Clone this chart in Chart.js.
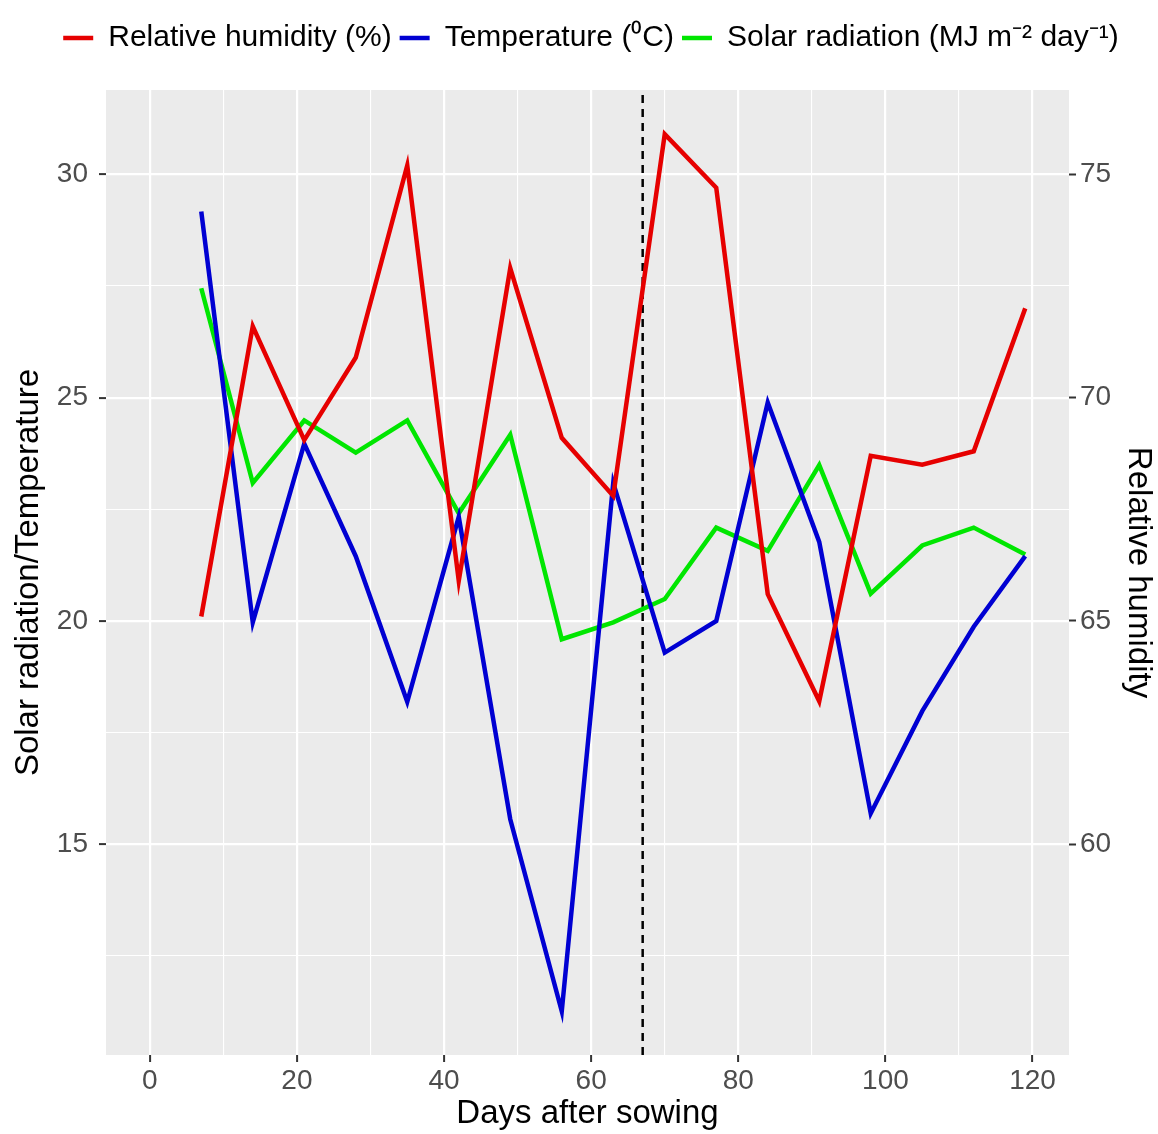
<!DOCTYPE html>
<html>
<head>
<meta charset="utf-8">
<title>Weather during crop growth</title>
<script src="https://cdn.jsdelivr.net/npm/chart.js@4.4.1/dist/chart.umd.min.js"></script>
<style>
    html, body { margin: 0; padding: 0; background: #ffffff; }
    #wrap { width: 1158px; height: 1134px; }
</style>
</head>
<body>
<div id="wrap"><canvas id="weather-chart" width="1158" height="1134"></canvas></div>
<script>
'use strict';

// days after sowing (weekly)
const days = [7, 14, 21, 28, 35, 42, 49, 56, 63, 70, 77, 84, 91, 98, 105, 112, 119];
const humidity = [65.1, 71.6, 69.05, 70.9, 75.2, 65.9, 72.9, 69.1, 67.8, 75.9, 74.7, 65.6, 63.2, 68.7, 68.5, 68.8, 72.0];
const temperature = [29.17, 19.97, 23.97, 21.45, 18.19, 22.33, 15.56, 11.26, 23.09, 19.29, 20.0, 24.89, 21.77, 15.69, 17.98, 19.87, 21.45];
const solar = [27.45, 23.09, 24.49, 23.77, 24.49, 22.41, 24.17, 19.59, 19.97, 20.49, 22.09, 21.57, 23.49, 20.61, 21.69, 22.09, 21.49];
const markerDay = 67;

const xMajor = [0, 20, 40, 60, 80, 100, 120];
const xMinor = [10, 30, 50, 70, 90, 110];
const leftMajor = [15, 20, 25, 30];
const leftMinor = [12.5, 17.5, 22.5, 27.5];
const rightMajor = [60, 65, 70, 75];

const xRange = [-5.95, 124.95];
const leftRange = [10.28, 31.89];
const rhOffset = 45; // right axis = left axis + 45

const legendNames = ['Relative humidity (%)', 'Temperature (\u2070C)', 'Solar radiation (MJ m\u207B\u00B2 day\u207B\u00B9)'];

function toPoints(values) {
    return days.map((d, i) => ({ x: d, y: values[i] }));
}
function isMajor(list, value) {
    return list.some(v => Math.abs(v - value) < 1e-6);
}
function setTicks(list) {
    return function (axis) {
        axis.ticks = list.slice().sort((a, b) => a - b).map(v => ({ value: v }));
    };
}

// grey ggplot panel
const panelBackground = {
    id: 'panelBackground',
    beforeDraw(chart) {
        const a = chart.chartArea;
        const ctx = chart.ctx;
        ctx.save();
        ctx.fillStyle = '#ebebeb';
        ctx.fillRect(a.left, a.top, a.right - a.left, a.bottom - a.top);
        ctx.restore();
    }
};
// extra room under the legend, legend nudged a little right
const legendGap = {
    id: 'legendGap',
    beforeInit(chart) {
        const fit = chart.legend.fit;
        chart.legend.fit = function () {
            fit.bind(chart.legend)();
            this.height += 27;
        };
    },
    afterLayout(chart) {
        chart.legend.left += 24;
    }
};

const tickFont = { family: 'Liberation Sans, Arial, sans-serif', size: 28 };
const titleFont = { family: 'Liberation Sans, Arial, sans-serif', size: 33 };

new Chart(document.getElementById('weather-chart'), {
    type: 'line',
    data: {
        datasets: [{
            label: legendNames[0],
            data: toPoints(humidity),
            yAxisID: 'y2',
            borderColor: '#e60000',
            backgroundColor: '#e60000',
            borderWidth: 4.5,
            pointRadius: 0,
            tension: 0,
        },
        {
            label: legendNames[1],
            data: toPoints(temperature),
            yAxisID: 'y',
            borderColor: '#0000d2',
            backgroundColor: '#0000d2',
            borderWidth: 4.5,
            pointRadius: 0,
            tension: 0,
        },
        {
            label: legendNames[2],
            data: toPoints(solar),
            yAxisID: 'y',
            borderColor: '#00e600',
            backgroundColor: '#00e600',
            borderWidth: 4.5,
            pointRadius: 0,
            tension: 0,
        },
        {
            label: 'marker',
            data: [{ x: markerDay, y: leftRange[0] }, { x: markerDay, y: leftRange[1] }],
            yAxisID: 'y',
            borderColor: '#000000',
            borderWidth: 2.5,
            borderDash: [8, 6],
            pointRadius: 0,
        }],
    },
    options: {
        responsive: false,
        animation: false,
        layout: { padding: { top: 15, left: 0, right: 0, bottom: 0 } },
        plugins: {
            tooltip: { enabled: false },
            legend: {
                position: 'top',
                labels: {
                    usePointStyle: true,
                    pointStyle: 'line',
                    pointStyleWidth: 30,
                    boxHeight: 30,
                    padding: 8,
                    color: '#000000',
                    font: { family: 'Liberation Sans, Arial, sans-serif', size: 30 },
                    filter: item => item.text !== 'marker',
                },
            },
        },
        scales: {
            x: {
                type: 'linear',
                min: xRange[0],
                max: xRange[1],
                afterBuildTicks: setTicks(xMajor.concat(xMinor)),
                afterFit: axis => { axis.height = 79; },
                border: { display: false },
                grid: {
                    color: '#ffffff',
                    lineWidth: c => isMajor(xMajor, c.tick.value) ? 2.2 : 1.1,
                    tickColor: c => isMajor(xMajor, c.tick.value) ? '#333333' : 'rgba(0,0,0,0)',
                    tickLength: 7,
                    tickWidth: 2,
                },
                ticks: {
                    autoSkip: false,
                    maxRotation: 0,
                    padding: 2,
                    color: '#4d4d4d',
                    font: tickFont,
                    callback: v => isMajor(xMajor, v) ? String(v) : '',
                },
                title: {
                    display: true,
                    text: 'Days after sowing',
                    color: '#000000',
                    font: titleFont,
                    padding: { top: -7, bottom: 0 },
                },
            },
            y: {
                type: 'linear',
                position: 'left',
                min: leftRange[0],
                max: leftRange[1],
                afterBuildTicks: setTicks(leftMajor.concat(leftMinor)),
                afterFit: axis => { axis.width = 106; },
                border: { display: false },
                grid: {
                    color: '#ffffff',
                    lineWidth: c => isMajor(leftMajor, c.tick.value) ? 2.2 : 1.1,
                    tickColor: c => isMajor(leftMajor, c.tick.value) ? '#333333' : 'rgba(0,0,0,0)',
                    tickLength: 7,
                    tickWidth: 2,
                },
                ticks: {
                    padding: 11,
                    color: '#4d4d4d',
                    font: tickFont,
                    callback: v => isMajor(leftMajor, v) ? String(v) : '',
                },
                title: {
                    display: true,
                    text: 'Solar radiation/Temperature',
                    color: '#000000',
                    font: titleFont,
                    padding: { top: 9, bottom: 0 },
                },
            },
            y2: {
                type: 'linear',
                position: 'right',
                min: leftRange[0] + rhOffset,
                max: leftRange[1] + rhOffset,
                afterBuildTicks: setTicks(rightMajor),
                afterFit: axis => { axis.width = 89; },
                border: { display: false },
                grid: {
                    drawOnChartArea: false,
                    color: 'rgba(0,0,0,0)',
                    tickColor: '#333333',
                    tickLength: 7,
                    tickWidth: 2,
                },
                ticks: {
                    padding: 4,
                    color: '#4d4d4d',
                    font: tickFont,
                },
                title: {
                    display: true,
                    text: 'Relative humidity',
                    color: '#000000',
                    font: titleFont,
                    padding: { top: 0, bottom: 0 },
                },
            },
        },
    },
    plugins: [panelBackground, legendGap],
});
</script>
</body>
</html>
